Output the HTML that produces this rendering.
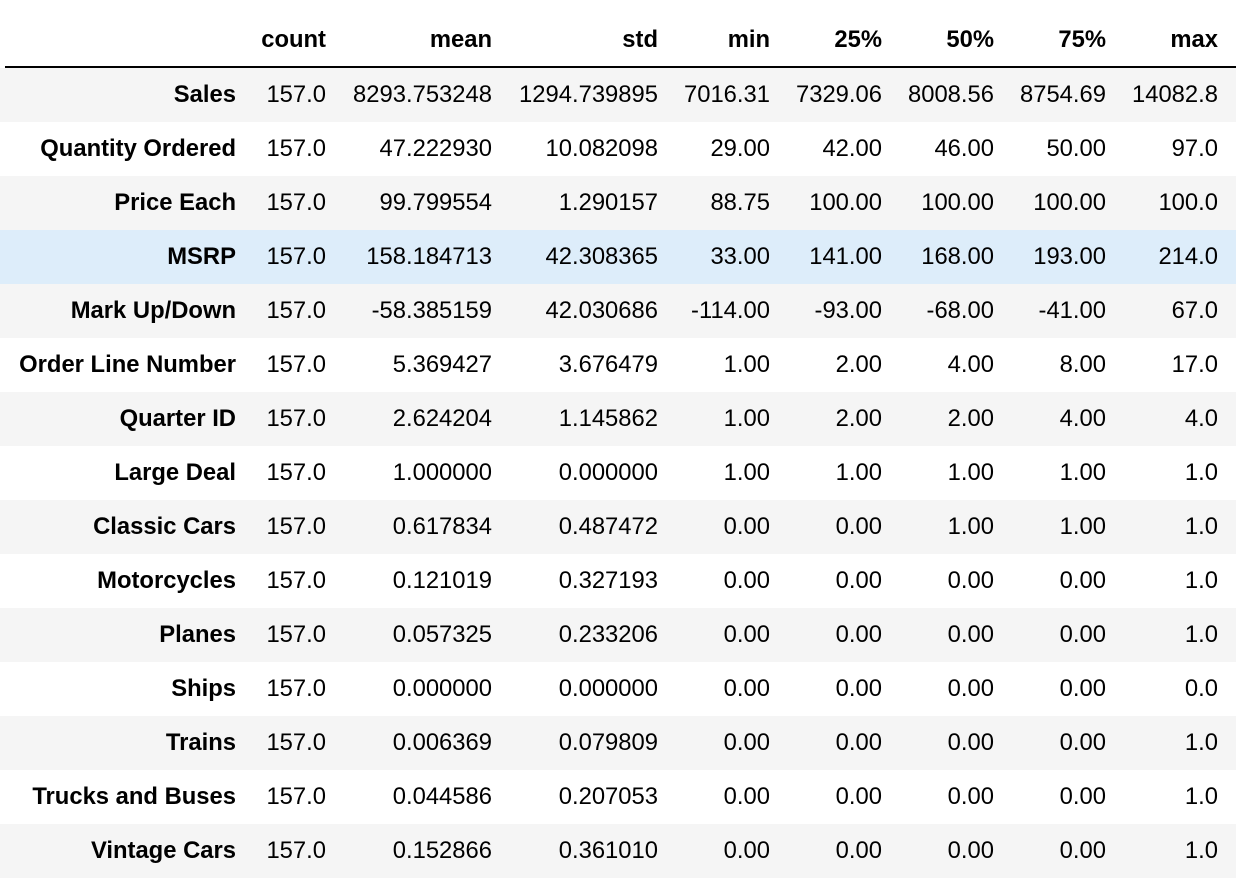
<!DOCTYPE html>
<html><head><meta charset="utf-8"><style>
html,body{margin:0;padding:0;background:#fff;width:1236px;height:874px;overflow:hidden;font-family:"Liberation Sans",Arial,sans-serif;}
.row{position:absolute;left:5px;width:1231px;height:54px;}
.c{position:absolute;font-size:23.8px;line-height:54px;text-align:right;white-space:nowrap;color:#000;}
.h{font-weight:bold;}
</style></head><body>
<div id="t"></div>
<script>
var columns=["count","mean","std","min","25%","50%","75%","max"];
var rowLabels=["Sales","Quantity Ordered","Price Each","MSRP","Mark Up/Down","Order Line Number","Quarter ID","Large Deal","Classic Cars","Motorcycles","Planes","Ships","Trains","Trucks and Buses","Vintage Cars"];
var counts=["157.0","157.0","157.0","157.0","157.0","157.0","157.0","157.0","157.0","157.0","157.0","157.0","157.0","157.0","157.0"];
var means=["8293.753248","47.222930","99.799554","158.184713","-58.385159","5.369427","2.624204","1.000000","0.617834","0.121019","0.057325","0.000000","0.006369","0.044586","0.152866"];
var stds=["1294.739895","10.082098","1.290157","42.308365","42.030686","3.676479","1.145862","0.000000","0.487472","0.327193","0.233206","0.000000","0.079809","0.207053","0.361010"];
var mins=["7016.31","29.00","88.75","33.00","-114.00","1.00","1.00","1.00","0.00","0.00","0.00","0.00","0.00","0.00","0.00"];
var q25=["7329.06","42.00","100.00","141.00","-93.00","2.00","2.00","1.00","0.00","0.00","0.00","0.00","0.00","0.00","0.00"];
var q50=["8008.56","46.00","100.00","168.00","-68.00","4.00","2.00","1.00","1.00","0.00","0.00","0.00","0.00","0.00","0.00"];
var q75=["8754.69","50.00","100.00","193.00","-41.00","8.00","4.00","1.00","1.00","0.00","0.00","0.00","0.00","0.00","0.00"];
var maxs=["14082.8","97.0","100.0","214.0","67.0","17.0","4.0","1.0","1.0","1.0","1.0","0.0","1.0","1.0","1.0"];
var series=[counts,means,stds,mins,q25,q50,q75,maxs];
var rights=[326,492,658,770,882,994,1106,1218];
var t=document.getElementById('t');
function cell(parent,text,right,bold,name){
  var d=document.createElement('div');
  d.className='c'+(bold?' h':'');
  d.style.right=(1236-right)+'px';
  d.textContent=text;
  
  
  parent.appendChild(d);
}
var hdr=document.createElement('div');
hdr.style.cssText='position:absolute;left:0;top:13px;width:1236px;height:54px;';


t.appendChild(hdr);
columns.forEach(function(c,j){cell(hdr,c,rights[j],true,'header-'+c.replace('%','pct'));});
var line=document.createElement('div');
line.style.cssText='position:absolute;left:5px;top:66px;width:1231px;height:2px;background:#000;';


t.appendChild(line);
rowLabels.forEach(function(lab,i){
  var r=document.createElement('div');
  r.className='row';
  r.style.top=(68+54*i)+'px';
  r.style.left='0';r.style.width='1236px';
  r.style.background = lab==='MSRP' ? '#ddedfa' : (i%2===0 ? '#f5f5f5' : '#fff');
  
  
  t.appendChild(r);
  cell(r,lab,236,true,'row-label');
  series.forEach(function(s,j){cell(r,s[i],rights[j],false,'cell-'+columns[j].replace('%','pct'));});
});
</script>
</body></html>
